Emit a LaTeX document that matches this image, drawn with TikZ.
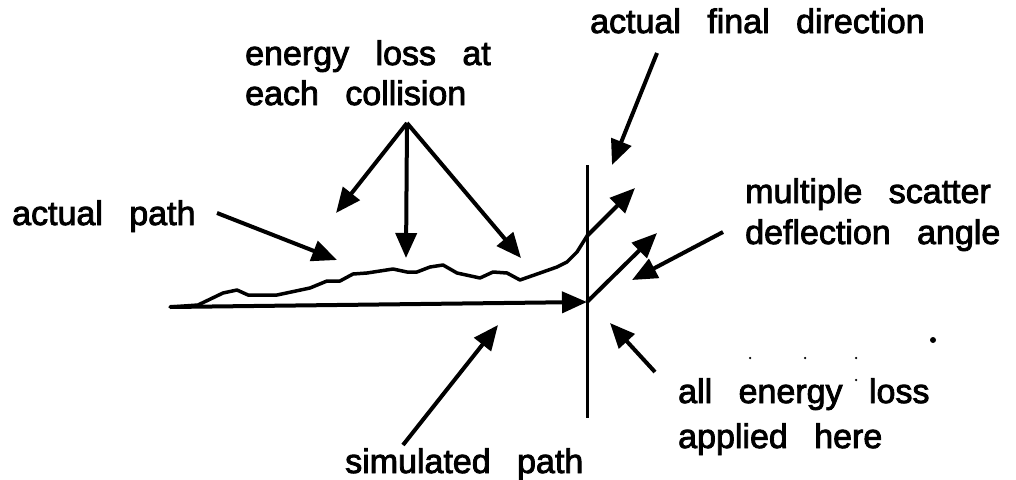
\documentclass[tikz,border=0pt]{standalone}
\usepackage{fontspec}
\setmainfont{Liberation Sans}[WordSpace=2.8,FakeBold=2.5]
\usetikzlibrary{arrows.meta}
\begin{document}
\begin{tikzpicture}[x=1pt,y=-1pt,
  lbl/.style={anchor=base west,inner sep=0pt,font=\fontsize{34}{40}\selectfont},
  arr/.style={line width=4pt,-{Triangle[length=25pt,width=21pt]}},
  trk/.style={line width=3.5pt,line join=round,line cap=round},
  dot/.style={circle,fill=black,inner sep=0pt}]
\useasboundingbox (0,0) rectangle (1016,479);
% labels
\node[lbl] (tfinal) at (590,33) {actual final direction};
\node[lbl] (tenergy1) at (245,65) {energy loss at};
\node[lbl] (tenergy2) at (245,105) {each collision};
\node[lbl] (tactual) at (12,225) {actual path};
\node[lbl] (tmult1) at (745,203) {multiple scatter};
\node[lbl] (tmult2) at (745,244) {deflection angle};
\node[lbl] (tall1) at (678,403) {all energy loss};
\node[lbl] (tall2) at (678,448) {applied here};
\node[lbl] (tsim) at (345,473) {simulated path};
% coordinates
\coordinate (start) at (170,307);
\coordinate (hit) at (587,302);
\coordinate (vtop) at (587,165);
\coordinate (vbot) at (587,418);
\coordinate (cross) at (587,236);
\coordinate (finaltip) at (635,188);
\coordinate (defltip) at (657,233);
\coordinate (fork) at (407,123);
\coordinate (forkA) at (336,213);
\coordinate (forkB) at (406,258);
\coordinate (forkC) at (521,258);
\coordinate (apT) at (217,213);
\coordinate (apH) at (337,260);
\coordinate (fdT) at (657,53);
\coordinate (fdH) at (612,165);
\coordinate (msT) at (723,232);
\coordinate (msH) at (632,280);
\coordinate (spT) at (403,445);
\coordinate (spH) at (498,325);
\coordinate (elT) at (655,372);
\coordinate (elH) at (610,323);
% plane
\draw[line width=3pt] (vtop) -- (vbot);
% simulated path
\draw[arr] (start) -- (hit);
% actual path
\draw[trk] (start) -- (198,305) -- (223,293) -- (237,290) -- (248,295) -- (277,295)
  -- (310,288) -- (327,281) -- (340,281) -- (353,274) -- (367,273) -- (393,269)
  -- (407,272) -- (417,272) -- (430,267) -- (443,265) -- (457,273) -- (480,278)
  -- (493,272) -- (507,273) -- (520,280) -- (540,273) -- (557,267) -- (567,262)
  -- (577,252) -- (cross);
\draw[arr] (cross) -- (finaltip);
\draw[arr] (hit) -- (defltip);
% label arrows
\draw[arr] (fork) -- (forkA);
\draw[arr] (fork) -- (forkB);
\draw[arr] (fork) -- (forkC);
\draw[arr] (apT) -- (apH);
\draw[arr] (fdT) -- (fdH);
\draw[arr] (msT) -- (msH);
\draw[arr] (spT) -- (spH);
\draw[arr] (elT) -- (elH);
% specks
\node[dot,minimum size=6pt] (d0) at (933,340) {};
\node[dot,minimum size=2.5pt] (d1) at (750,358) {};
\node[dot,minimum size=2.5pt] (d2) at (805,358) {};
\node[dot,minimum size=2.5pt] (d3) at (856,358) {};
\node[dot,minimum size=2.5pt] (d4) at (856,380) {};
\end{tikzpicture}
\end{document}
